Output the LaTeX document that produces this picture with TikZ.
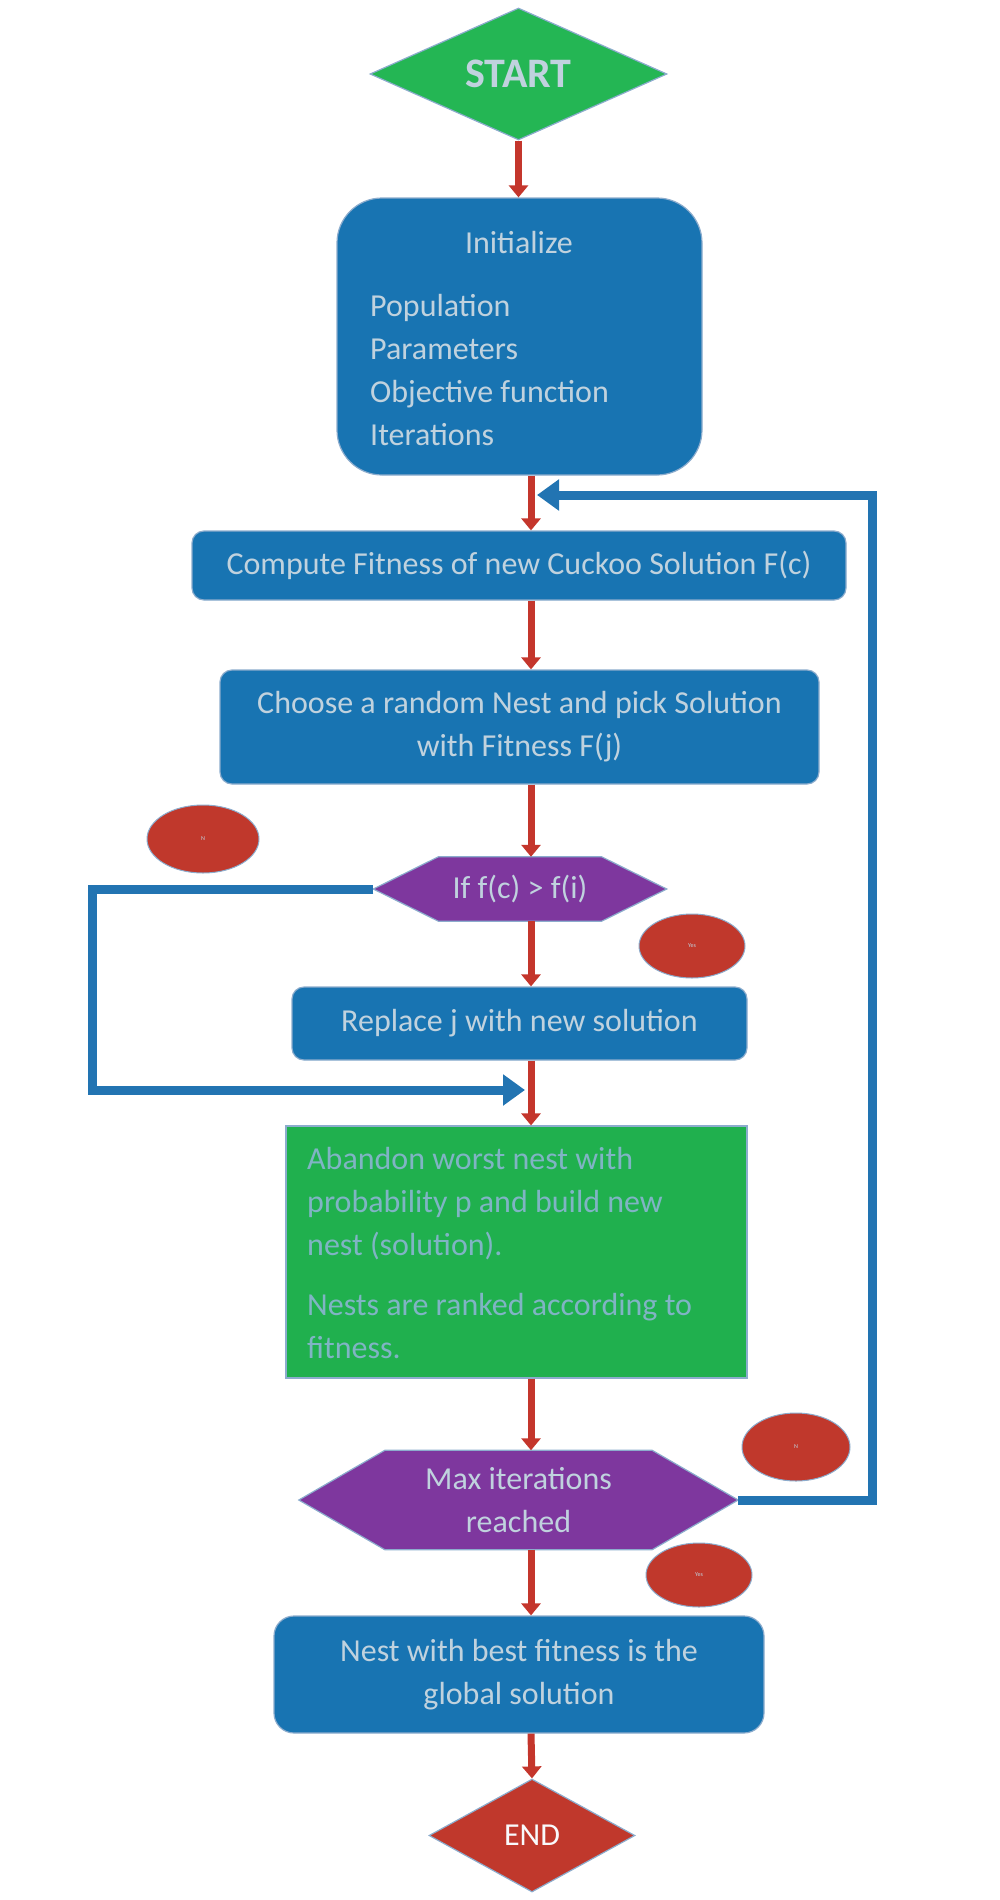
\documentclass[tikz,border=0pt]{standalone}
\usepackage{fontspec}
\setmainfont{Carlito}
\usetikzlibrary{shapes.geometric,arrows.meta,backgrounds}
\definecolor{boxblue}{RGB}{24,116,178}
\definecolor{boxgreen}{RGB}{32,176,78}
\definecolor{startgreen}{RGB}{36,182,84}
\definecolor{hexpurple}{RGB}{126,55,158}
\definecolor{decred}{RGB}{192,56,44}
\definecolor{arrred}{RGB}{196,54,44}
\definecolor{loopblue}{RGB}{34,116,178}
\definecolor{edgeblue}{RGB}{140,172,205}
\definecolor{txtpale}{RGB}{192,210,222}
\definecolor{txtgreen}{RGB}{128,180,196}
\begin{document}
\begin{tikzpicture}[x=1pt,y=-1pt,
  txt/.style={font=\fontsize{32}{43}\selectfont, text=txtpale, inner sep=0pt},
  bluebox/.style={txt, fill=boxblue, draw=edgeblue, line width=1.2pt, rounded corners=12pt, align=center},
  greenbox/.style={fill=boxgreen, draw=edgeblue, line width=1.2pt, inner sep=0pt},
  hexnode/.style={txt, shape=rectangle, align=center},
  hexfill/.style={fill=hexpurple, draw=edgeblue, line width=1.2pt},
  diam/.style={shape=diamond, inner sep=0pt, draw=edgeblue, line width=1.2pt, aspect=2.2},
  redell/.style={shape=ellipse, fill=decred, draw=edgeblue, line width=1pt, inner sep=0pt, font=\fontsize{6}{7}\selectfont, text=txtpale},
  redarrow/.style={draw=arrred, line width=7pt, -{Triangle[width=19pt,length=12pt]}},
  loopline/.style={draw=loopblue, line width=9pt, -{Triangle[width=30pt,length=22pt]}}
]
\useasboundingbox (0,0) rectangle (1000,1900);

% START
\node[diam, fill=startgreen, minimum width=297pt, minimum height=132pt,
      font=\fontsize{42}{46}\selectfont\bfseries, text=txtpale] (start) at (518.5,74) {START};

% Initialize
\node[bluebox, rounded corners=45pt, minimum width=365pt, minimum height=277pt] (init) at (519.5,336.5) {};
\node[txt] (initT) at (519,243) {Initialize};
\node[txt, anchor=west, align=left] (initL) at (370,370.5) {Population\\Parameters\\Objective function\\Iterations};

% Compute
\node[bluebox, minimum width=654pt, minimum height=69pt] (comp) at (519,565.5) {Compute Fitness of new Cuckoo Solution F(c)};

% Choose
\node[bluebox, minimum width=599pt, minimum height=114pt] (choose) at (519.5,727) {Choose a random Nest and pick Solution\\with Fitness F(j)};

% If hexagon
\node[hexnode, minimum width=293pt, minimum height=64pt] (ifh) at (520,889) {If f(c) {\fontspec{Carlito}>} f(i)};

% Replace
\node[bluebox, minimum width=455pt, minimum height=73pt] (repl) at (519.5,1023.5) {Replace j with new solution};

% Green box
\node[greenbox, minimum width=461pt, minimum height=252pt] (green) at (516.5,1252) {};
\node[txt, text=txtgreen, anchor=west, align=left] (greenT) at (307,1253) {Abandon worst nest with\\probability p and build new\\nest (solution).\\[17pt]Nests are ranked according to\\fitness.};

% Max iterations hexagon
\node[hexnode, minimum width=439pt, minimum height=99pt] (mxh) at (518.5,1500) {Max iterations\\reached};

% Final
\node[bluebox, rounded corners=20pt, minimum width=490pt, minimum height=117pt] (final) at (519,1674.5) {Nest with best fitness is the\\global solution};

% END
\node[diam, fill=decred, minimum width=206pt, minimum height=113pt,
      font=\fontsize{32}{36}\selectfont, text=white!90!txtpale] (end) at (532,1835.5) {END};

% red ellipses
\node[redell, minimum width=112pt, minimum height=68pt] (c1) at (203,839) {N};
\node[redell, minimum width=106pt, minimum height=64pt] (c2) at (692,946) {Yes};
\node[redell, minimum width=108pt, minimum height=68pt] (c3) at (796,1447) {N};
\node[redell, minimum width=106pt, minimum height=64pt] (c4) at (699,1575) {Yes};

% hexagon fills
\begin{scope}[on background layer]
  \path[hexfill] (ifh.west) -- ([xshift=65pt]ifh.north west) -- ([xshift=-65pt]ifh.north east)
     -- (ifh.east) -- ([xshift=-65pt]ifh.south east) -- ([xshift=65pt]ifh.south west) -- cycle;
  \path[hexfill] (mxh.west) -- ([xshift=86pt]mxh.north west) -- ([xshift=-86pt]mxh.north east)
     -- (mxh.east) -- ([xshift=-86pt]mxh.south east) -- ([xshift=86pt]mxh.south west) -- cycle;
\end{scope}

% column of the red arrows
\coordinate (ax) at (531,0);

% red arrows
\draw[redarrow] (start.south) -- (start.south |- init.north);
\draw[redarrow] (init.south -| ax) -- (comp.north -| ax);
\draw[redarrow] (comp.south -| ax) -- (choose.north -| ax);
\draw[redarrow] (choose.south -| ax) -- (ifh.north -| ax);
\draw[redarrow] (ifh.south -| ax) -- (repl.north -| ax);
\draw[redarrow] (repl.south -| ax) -- (green.north -| ax);
\draw[redarrow] (green.south -| ax) -- (mxh.north -| ax);
\draw[redarrow] (mxh.south -| ax) -- (final.north -| ax);
\draw[redarrow] (final.south -| ax) -- (end.north);

% loop connectors
\coordinate (lcorner) at (92,1090);
\coordinate (ltip) at (525,1090);
\draw[loopline] (ifh.west) -| (lcorner) -- (ltip);
\coordinate (rcorner) at (872,495);
\coordinate (rtip) at (537,495);
\draw[loopline] (mxh.east) -| (rcorner) -- (rtip);
\end{tikzpicture}
\end{document}
